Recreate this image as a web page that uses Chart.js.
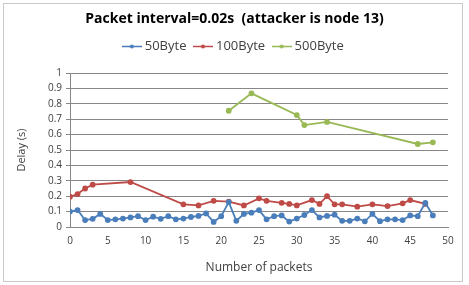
<!DOCTYPE html>
<html>
<head>
<meta charset="utf-8">
<script src="https://cdn.jsdelivr.net/npm/chart.js@4.4.0/dist/chart.umd.min.js"></script>
<style>
  html, body { margin: 0; padding: 0; background: #fff; }
  #wrap { position: relative; width: 469px; height: 285px; }
  #frame { position: absolute; left: 3px; top: 3px; width: 458px; height: 277px; border: 1px solid #c8c8c8; }
  canvas { position: absolute; left: 0; top: 0; }
</style>
</head>
<body>
<div id="wrap">
  <div id="frame"></div>
  <canvas id="chart" width="469" height="285"></canvas>
</div>
<script>
const titleText = 'Packet interval=0.02s  (attacker is node 13)';
const seriesNames = ['50Byte', '100Byte', '500Byte'];
const seriesColors = ['#4a7ebb', '#be4b48', '#98b954'];

// 50Byte: one point per packet 0..48
const x50 = [0,1,2,3,4,5,6,7,8,9,10,11,12,13,14,15,16,17,18,19,20,21,22,23,24,25,26,27,28,29,30,31,32,33,34,35,36,37,38,39,40,41,42,43,44,45,46,47,48];
const y50 = [0.1,0.11,0.045,0.053,0.085,0.045,0.05,0.055,0.062,0.07,0.045,0.067,0.053,0.07,0.05,0.055,0.065,0.072,0.088,0.033,0.07,0.162,0.04,0.085,0.093,0.11,0.05,0.07,0.075,0.035,0.055,0.078,0.11,0.062,0.072,0.08,0.04,0.04,0.055,0.037,0.085,0.038,0.05,0.05,0.045,0.075,0.07,0.157,0.075];

const x100 = [0,1,2,3,8,15,17,19,21,23,25,26,28,29,30,32,33,34,35,36,38,40,42,44,45,47];
const y100 = [0.197,0.214,0.25,0.275,0.292,0.147,0.14,0.17,0.165,0.14,0.186,0.17,0.157,0.15,0.14,0.175,0.15,0.2,0.147,0.147,0.132,0.147,0.136,0.154,0.175,0.15];

const x500 = [21,24,30,31,34,46,48];
const y500 = [0.755,0.868,0.727,0.662,0.682,0.539,0.55];

const xTicks = [0,5,10,15,20,25,30,35,40,45,50];
const yTicks = [0,0.1,0.2,0.3,0.4,0.5,0.6,0.7,0.8,0.9,1];

const xTitle = 'Number of packets';
const yTitle = 'Delay (s)';

function pts(xs, ys) {
  return xs.map((x, i) => ({ x: x, y: ys[i] }));
}

// legend swatch: short line with a dot in the middle
function swatch(color) {
  const c = document.createElement('canvas');
  c.width = 20; c.height = 7;
  const g = c.getContext('2d');
  g.strokeStyle = color; g.lineWidth = 1.5;
  g.beginPath(); g.moveTo(0, 3.5); g.lineTo(20, 3.5); g.stroke();
  g.fillStyle = color;
  g.beginPath(); g.arc(10, 3.5, 2, 0, Math.PI * 2); g.fill();
  return c;
}

// extra room under the legend, like the original layout
const legendGap = {
  id: 'legendGap',
  beforeUpdate(chart) {
    const lg = chart.legend;
    if (lg && !lg._gap) {
      const fit = lg.fit.bind(lg);
      lg.fit = function () { fit(); this.height += 10; };
      lg._gap = true;
    }
  }
};

const fontFam = '"Open Sans", sans-serif';
const gray = '#878787';
const textCol = '#404040';

const data = {
  datasets: [
    { label: seriesNames[0], data: pts(x50, y50) },
    { label: seriesNames[1], data: pts(x100, y100) },
    { label: seriesNames[2], data: pts(x500, y500) }
  ].map((d, i) => Object.assign(d, {
    borderColor: seriesColors[i],
    backgroundColor: seriesColors[i],
    borderWidth: 1.8,
    pointRadius: 2,
    pointHoverRadius: 2,
    pointStyle: 'circle',
    tension: 0,
    yAxisID: 'y'
  }))
};

new Chart(document.getElementById('chart'), {
  type: 'line',
  data: data,
  plugins: [legendGap],
  options: {
    responsive: false,
    animation: false,
    layout: { padding: 0 },
    plugins: {
      title: {
        display: true,
        text: titleText,
        color: '#000',
        font: { family: fontFam, size: 14, weight: 'bold' },
        padding: { top: 10.6, bottom: 2.6 }
      },
      legend: {
        labels: {
          color: textCol,
          font: { family: fontFam, size: 13 },
          usePointStyle: true,
          boxWidth: 20,
          boxHeight: 7,
          padding: 10,
          generateLabels: chart => chart.data.datasets.map((d, i) => ({
            text: d.label,
            pointStyle: swatch(seriesColors[i]),
            fillStyle: seriesColors[i],
            strokeStyle: seriesColors[i],
            fontColor: textCol,
            lineWidth: 0,
            datasetIndex: i
          }))
        }
      },
      tooltip: { enabled: false }
    },
    scales: {
      x: {
        type: 'linear',
        min: 0, max: 50,
        afterBuildTicks: s => { s.ticks = xTicks.map(v => ({ value: v })); },
        afterFit: s => { s.height = 58; },
        grid: { display: false, drawTicks: true, tickLength: 4, color: gray },
        border: { color: gray },
        ticks: { color: textCol, font: { family: fontFam, size: 10 }, padding: 4, maxRotation: 0, callback: v => String(v) },
        title: { display: true, text: xTitle, color: textCol, font: { family: fontFam, size: 12 }, padding: { top: 0, bottom: 10 } }
      },
      y: {
        min: 0, max: 1,
        afterBuildTicks: s => { s.ticks = yTicks.map(v => ({ value: v })); },
        afterFit: s => { s.width = 70; },
        grid: { color: gray, tickLength: 4, drawTicks: true },
        border: { color: gray },
        ticks: { color: textCol, font: { family: fontFam, size: 10 }, padding: 4, callback: v => String(v) },
        title: { display: true, text: yTitle, color: textCol, font: { family: fontFam, size: 11 }, padding: { top: 15, bottom: 0 } }
      },
      // empty right-hand box so the plot ends where the original does
      yPad: {
        position: 'right',
        display: true,
        afterFit: s => { s.width = 21; },
        grid: { display: false, drawTicks: false },
        border: { display: false },
        ticks: { display: false }
      }
    }
  }
});
</script>
</body>
</html>
